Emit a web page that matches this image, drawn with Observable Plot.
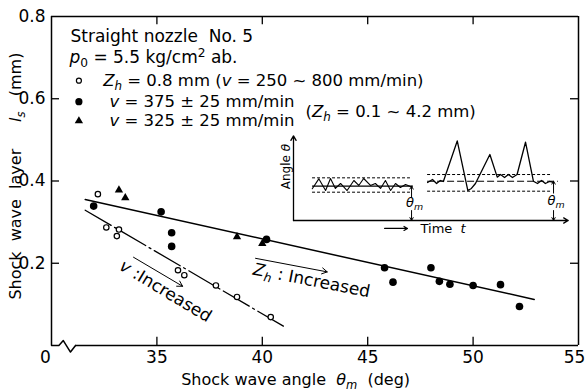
<!DOCTYPE html>
<html><head><meta charset="utf-8">
<script src="https://cdn.jsdelivr.net/npm/d3@7"></script>
<script src="https://cdn.jsdelivr.net/npm/@observablehq/plot@0.6"></script>
<style>
body{margin:0;background:#fff;}
#wrap{position:relative;width:586px;height:391px;overflow:hidden;}
#wrap svg{position:absolute;overflow:visible;}
#wrap text{white-space:pre;}
</style></head><body><div id="wrap"></div>
<script>
// ---------- main chart data ----------
const xTicks = [35, 40, 45, 50, 55];
const yTicks = [0.2, 0.4, 0.6, 0.8];

// Zh = 0.8 mm (open circles)
const openAngle = [32.2, 32.6, 33.2, 33.1, 36.0, 36.3, 37.8, 38.8, 40.4];
const openLayer = [0.368, 0.287, 0.282, 0.266, 0.183, 0.171, 0.146, 0.118, 0.069];
// v = 375 ± 25 mm/min (filled circles)
const filledAngle = [32.0, 35.2, 35.7, 35.7, 40.2, 45.8, 46.2, 48.0, 48.4, 48.9, 50.0, 51.3, 52.2];
const filledLayer = [0.339, 0.325, 0.274, 0.241, 0.258, 0.189, 0.154, 0.189, 0.156, 0.149, 0.146, 0.148, 0.095];
// v = 325 ± 25 mm/min (triangles)
const triAngle = [33.2, 33.5, 38.8, 40.0];
const triLayer = [0.378, 0.359, 0.264, 0.248];
// fitted lines
const fitZhAngle = [31.6, 52.9];
const fitZhLayer = [0.355, 0.112];
const fitVAngle = [31.6, 41.0];
const fitVLayer = [0.329, 0.047];

// ---------- inset (schematic) data ----------
const leftT = [6.9, 9.3, 11.8, 13.6, 15.4, 17.3, 19.7, 22.2, 24.0, 25.8, 28.3, 30.1, 32.0, 33.8, 35.7, 37.5, 39.3, 41.2, 43.0];
const leftA = [38.2, 50.2, 36.1, 50.6, 38.6, 44.6, 36.1, 48.2, 42.2, 50.6, 42.2, 44.6, 38.6, 48.2, 36.1, 44.6, 39.8, 43.4, 41.0];
const rightT = [49.3, 51.1, 52.6, 54.0, 55.1, 60.2, 64.1, 65.4, 66.9, 72.2, 74.9, 76.1, 77.6, 79.0, 80.5, 82.2, 85.3, 88.2, 89.7, 91.2, 92.6, 94.1, 95.6];
const rightA = [45.8, 49.4, 44.6, 48.2, 47.0, 95.8, 36.1, 38.6, 44.6, 79.5, 52.2, 55.4, 51.8, 55.4, 51.8, 55.4, 94.3, 47.3, 44.6, 48.2, 44.6, 47.0, 45.8];
const leftLevels = {mean: 41.3, upper: 51.4, lower: 34.1, t1: 7.0, t2: 43.0, tMean: 44.1};
const rightLevels = {mean: 47.3, upper: 55.4, lower: 35.3, t1: 49.3, t2: 94.5, tMean: 97.4};

const zip = (xs, ys) => xs.map((x, i) => ({x, y: ys[i]}));
const openPts = zip(openAngle, openLayer);
const filledPts = zip(filledAngle, filledLayer);
const triPts = zip(triAngle, triLayer);

const FONT = "DejaVu Sans, sans-serif";

const main = Plot.plot({
  width: 586, height: 391,
  marginLeft: 51, marginRight: 8, marginTop: 16, marginBottom: 46,
  x: {domain: [30, 55]},
  y: {domain: [0, 0.8]},
  style: {fontFamily: FONT, fontSize: "17px", background: "white", overflow: "visible", color: "black"},
  marks: [
    Plot.axisX({ticks: xTicks.slice(0, 4), tickSize: 0, tickPadding: 5, label: null, fontSize: 17}),
    Plot.axisX({ticks: xTicks.slice(4), tickSize: 0, tickPadding: 5, label: null, fontSize: 17, dx: -4}),
    Plot.axisY({ticks: yTicks, tickSize: 0, tickPadding: 6, label: null, fontSize: 17, tickFormat: d3.format(".1f")}),
    Plot.text(["0"], {x: 30, y: 0, dx: -6, dy: 5, lineAnchor: "top", fontSize: 17}),
    // frame (with broken bottom axis)
    Plot.ruleY([0.8], {stroke: "black", strokeWidth: 1.5}),
    Plot.ruleX([30, 55], {stroke: "black", strokeWidth: 1.5}),
    Plot.ruleY([{y: 0, x1: 31.14, x2: 55}], {y: "y", x1: "x1", x2: "x2", stroke: "black", strokeWidth: 1.5}),
    Plot.line([[30, 0], [30.35, 0], [30.56, 0.012], [30.9, -0.016], [31.14, 0]], {stroke: "black", strokeWidth: 1.5}),
    // inward ticks
    Plot.ruleX(xTicks.slice(0, 4), {y1: 0, y2: 0.02, stroke: "black", strokeWidth: 1.3}),
    Plot.ruleX(xTicks.slice(0, 4), {y1: 0.78, y2: 0.8, stroke: "black", strokeWidth: 1.3}),
    Plot.ruleY(yTicks.slice(0, 3), {x1: 30, x2: 30.38, stroke: "black", strokeWidth: 1.3}),
    Plot.ruleY(yTicks.slice(0, 3), {x1: 54.62, x2: 55, stroke: "black", strokeWidth: 1.3}),
    // fitted lines
    Plot.line(zip(fitZhAngle, fitZhLayer), {x: "x", y: "y", stroke: "black", strokeWidth: 1.5}),
    Plot.line(zip(fitVAngle, fitVLayer), {x: "x", y: "y", stroke: "black", strokeWidth: 1.3, strokeDasharray: "30,4,2,4"}),
    // data
    Plot.dot(openPts, {x: "x", y: "y", r: 2.7, fill: "white", stroke: "black", strokeWidth: 1.2}),
    Plot.dot(filledPts, {x: "x", y: "y", r: 3.8, fill: "black"}),
    Plot.dot(triPts, {x: "x", y: "y", r: 3.1, symbol: "triangle", fill: "black"}),
    // legend
    Plot.text(["Straight nozzle  No. 5"], {x: 30.9, y: 0.751, textAnchor: "start", fontSize: 17}),
    Plot.text(["*p*_0 = 5.5 kg/cm^2 ab."], {x: 30.85, y: 0.70, textAnchor: "start", fontSize: 17}),
    Plot.dot([{x: 31.3, y: 0.644}], {x: "x", y: "y", r: 2.5, fill: "white", stroke: "black", strokeWidth: 1.2}),
    Plot.dot([{x: 31.3, y: 0.593}], {x: "x", y: "y", r: 3.6, fill: "black"}),
    Plot.dot([{x: 31.3, y: 0.546}], {x: "x", y: "y", r: 3.1, symbol: "triangle", fill: "black"}),
    Plot.text(["*Z_h* = 0.8 mm (*v* = 250 ~ 800 mm/min)"], {x: 32.45, y: 0.644, textAnchor: "start", fontSize: 16.5}),
    Plot.text(["*v* = 375 ± 25 mm/min"], {x: 32.75, y: 0.593, textAnchor: "start", fontSize: 16.5}),
    Plot.text(["*v* = 325 ± 25 mm/min"], {x: 32.75, y: 0.546, textAnchor: "start", fontSize: 16.5}),
    Plot.text(["(*Z_h* = 0.1 ~ 4.2 mm)"], {x: 42.05, y: 0.568, textAnchor: "start", fontSize: 16.5}),
    // annotations
    Plot.arrow([{x1: 33.89, y1: 0.2146, x2: 36.22, y2: 0.144}], {x1: "x1", y1: "y1", x2: "x2", y2: "y2", stroke: "black", strokeWidth: 1, headLength: 9}),
    Plot.arrow([{x1: 39.68, y1: 0.212, x2: 43.08, y2: 0.179}], {x1: "x1", y1: "y1", x2: "x2", y2: "y2", stroke: "black", strokeWidth: 1, headLength: 9}),
    Plot.text(["*v* :Increased"], {x: 35.41, y: 0.132, rotate: 31, fontSize: 17}),
    Plot.text(["*Z_h* : Increased"], {x: 42.34, y: 0.158, rotate: 11, fontSize: 17}),
    // axis titles
    Plot.text(["Shock wave angle  *θ_m*  (deg)"], {x: 41.58, y: 0, dy: 34, fontSize: 16}),
    Plot.text(["Shock  wave  layer"], {x: 30, y: 0.295, dx: -36, rotate: -90, fontSize: 16}),
    Plot.text(["*l_s*   (mm)"], {x: 30, y: 0.628, dx: -36, rotate: -90, fontSize: 16})
  ]
});

const lvl = (L) => [
  {x1: L.t1, x2: L.t2, y: L.upper},
  {x1: L.t1, x2: L.t2, y: L.lower}
];

const inset = Plot.plot({
  width: 300, height: 110,
  marginLeft: 20, marginRight: 8, marginTop: 10, marginBottom: 17,
  x: {domain: [0, 100], axis: null},
  y: {domain: [0, 100], axis: null},
  style: {fontFamily: FONT, fontSize: "13px", background: "transparent", overflow: "visible", color: "black"},
  marks: [
    Plot.arrow([{x1: 0, y1: 0, x2: 0, y2: 102}], {x1: "x1", y1: "y1", x2: "x2", y2: "y2", stroke: "black", strokeWidth: 1.3, headLength: 6}),
    Plot.arrow([{x1: 0, y1: 0, x2: 101, y2: 0}], {x1: "x1", y1: "y1", x2: "x2", y2: "y2", stroke: "black", strokeWidth: 1.3, headLength: 6}),
    Plot.ruleY(lvl(leftLevels), {x1: "x1", x2: "x2", y: "y", stroke: "black", strokeWidth: 1, strokeDasharray: "3,2"}),
    Plot.ruleY(lvl(rightLevels), {x1: "x1", x2: "x2", y: "y", stroke: "black", strokeWidth: 1, strokeDasharray: "3,2"}),
    Plot.ruleY([{x1: leftLevels.t1, x2: leftLevels.tMean, y: leftLevels.mean}], {x1: "x1", x2: "x2", y: "y", stroke: "black", strokeWidth: 1.2}),
    Plot.ruleY([{x1: rightLevels.t1, x2: rightLevels.tMean, y: rightLevels.mean}], {x1: "x1", x2: "x2", y: "y", stroke: "black", strokeWidth: 1.2, strokeDasharray: "7,3"}),
    Plot.line(zip(leftT, leftA), {x: "x", y: "y", stroke: "black", strokeWidth: 1.1}),
    Plot.line(zip(rightT, rightA), {x: "x", y: "y", stroke: "black", strokeWidth: 1.3}),
    // theta_m arrows
    Plot.arrow([
      {x1: 43.4, y1: 28, x2: 43.4, y2: leftLevels.mean},
      {x1: 43.4, y1: 12, x2: 43.4, y2: 0},
      {x1: 95.6, y1: 33, x2: 95.6, y2: rightLevels.mean},
      {x1: 95.6, y1: 12, x2: 95.6, y2: 0}
    ], {x1: "x1", y1: "y1", x2: "x2", y2: "y2", stroke: "black", strokeWidth: 1, headLength: 5}),
    Plot.text(["*θ_m*"], {x: 44.5, y: 21.7, fontSize: 13}),
    Plot.text(["*θ_m*"], {x: 96.5, y: 23.5, fontSize: 13}),
    Plot.text(["Angle *θ*"], {x: 0, y: 65, dx: -7, rotate: -90, fontSize: 12}),
    Plot.arrow([{x1: 33.5, y1: -9.6, x2: 41.9, y2: -9.6}], {x1: "x1", y1: "y1", x2: "x2", y2: "y2", stroke: "black", strokeWidth: 1.2, headLength: 5}),
    Plot.text(["Time  *t*"], {x: 46.7, y: -9.6, textAnchor: "start", fontSize: 13})
  ]
});

const wrap = document.getElementById("wrap");
main.style.left = "0px"; main.style.top = "0px";
inset.style.left = "273px"; inset.style.top = "127px";
wrap.appendChild(main);
wrap.appendChild(inset);

function richText(svg) {
  const NS = "http://www.w3.org/2000/svg";
  svg.querySelectorAll("text").forEach(el => {
    const targets = el.querySelector("tspan") ? Array.from(el.querySelectorAll("tspan")) : [el];
    targets.forEach(t => {
      const s = t.textContent;
      if (!/[*_^]/.test(s)) return;
      const fs = parseFloat(getComputedStyle(t).fontSize) || 14;
      while (t.firstChild) t.removeChild(t.firstChild);
      let italic = false, buf = "", shift = 0;
      const add = (str, it, kind) => {
        const sp = document.createElementNS(NS, "tspan");
        sp.textContent = str;
        if (it) sp.setAttribute("font-style", "italic");
        let target = 0;
        if (kind === "_") { target = fs * 0.25; sp.setAttribute("font-size", (fs * 0.72).toFixed(1)); }
        if (kind === "^") { target = -fs * 0.38; sp.setAttribute("font-size", (fs * 0.72).toFixed(1)); }
        if (target !== shift) { sp.setAttribute("dy", (target - shift).toFixed(2)); shift = target; }
        t.appendChild(sp);
      };
      const flush = () => { if (buf) { add(buf, italic, null); buf = ""; } };
      for (let i = 0; i < s.length; i++) {
        const c = s[i];
        if (c === "*") { flush(); italic = !italic; }
        else if (c === "_" || c === "^") { flush(); add(s[++i], italic, c); }
        else buf += c;
      }
      flush();
    });
  });
}
richText(main);
richText(inset);
</script></body></html>
